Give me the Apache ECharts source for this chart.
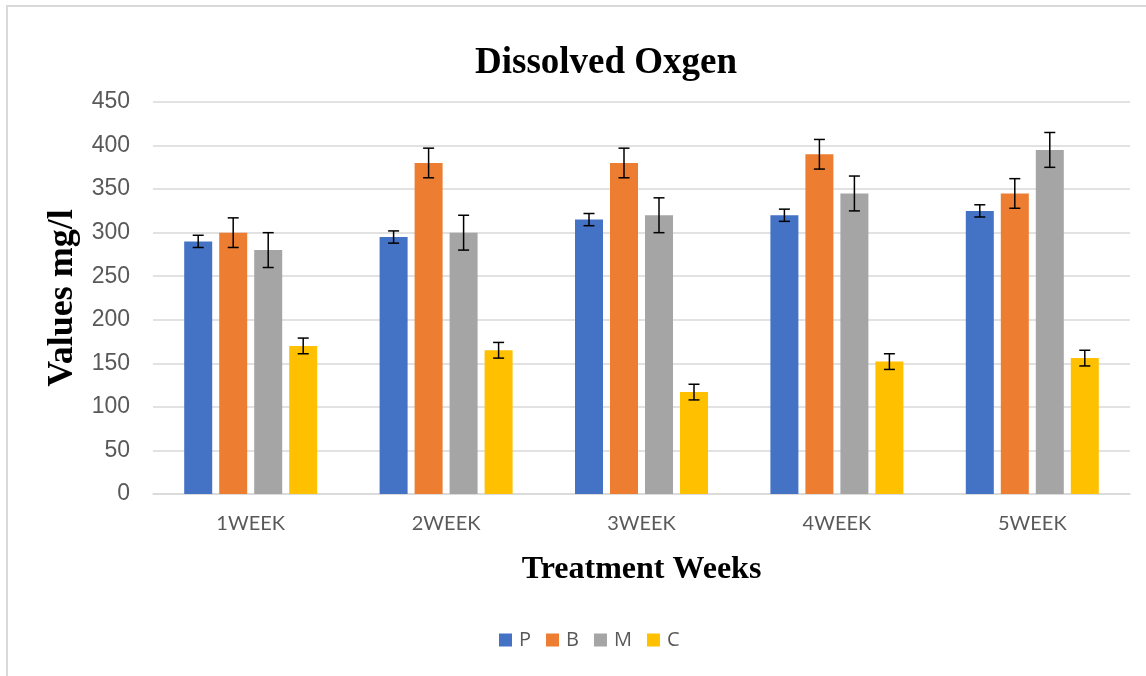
<!DOCTYPE html>
<html>
<head>
<meta charset="utf-8">
<script src="https://cdn.jsdelivr.net/npm/echarts@6/dist/echarts.min.js"></script>
<style>
html,body{margin:0;padding:0;background:#fff;}
#chart{width:1146px;height:676px;}
</style>
</head>
<body>
<div id="chart"></div>
<script>
var categories = ['1WEEK', '2WEEK', '3WEEK', '4WEEK', '5WEEK'];
var seriesNames = ['P', 'B', 'M', 'C'];
var valuesP = [290, 295, 315, 320, 325];
var valuesB = [300, 380, 380, 390, 345];
var valuesM = [280, 300, 320, 345, 395];
var valuesC = [170, 165, 117, 152, 156];
var errorsP = [7, 7, 7, 7, 7];
var errorsB = [17, 17, 17, 17, 17];
var errorsM = [20, 20, 20, 20, 20];
var errorsC = [9, 9, 9, 9, 9];
var yTicks = { min: 0, max: 450, interval: 50 };

var colors = ['#4472C4', '#ED7D31', '#A5A5A5', '#FFC000'];
var allValues = [valuesP, valuesB, valuesM, valuesC];
var allErrors = [errorsP, errorsB, errorsM, errorsC];

var BAR_W = 28, BAR_GAP = 7;
var groupW = seriesNames.length * BAR_W + (seriesNames.length - 1) * BAR_GAP;

var chart = echarts.init(document.getElementById('chart'));

var series = [];
seriesNames.forEach(function (name, i) {
  series.push({
    name: name,
    type: 'bar',
    data: allValues[i],
    barWidth: BAR_W,
    barGap: (BAR_GAP / BAR_W * 100) + '%',
    itemStyle: { color: colors[i] },
    z: 2
  });
});
seriesNames.forEach(function (name, i) {
  var offset = -groupW / 2 + BAR_W / 2 + i * (BAR_W + BAR_GAP);
  series.push({
    type: 'custom',
    name: name + '_err',
    data: allValues[i].map(function (v, j) { return [j, v, allErrors[i][j]]; }),
    z: 5,
    silent: true,
    renderItem: function (params, api) {
      var c = api.coord([api.value(0), api.value(1) + api.value(2)]);
      var d = api.coord([api.value(0), api.value(1) - api.value(2)]);
      var x = c[0] + offset;
      var hw = 5.5;
      var st = { stroke: '#000', lineWidth: 1.5 };
      return {
        type: 'group',
        children: [
          { type: 'line', shape: { x1: x, y1: c[1], x2: x, y2: d[1] }, style: st },
          { type: 'line', shape: { x1: x - hw, y1: c[1], x2: x + hw, y2: c[1] }, style: st },
          { type: 'line', shape: { x1: x - hw, y1: d[1], x2: x + hw, y2: d[1] }, style: st }
        ]
      };
    }
  });
});

chart.setOption({
  animation: false,
  backgroundColor: '#fff',
  title: {
    text: 'Dissolved Oxgen',
    left: 470,
    top: 40,
    textStyle: { fontFamily: 'Liberation Serif', fontWeight: 'bold', fontSize: 37, color: '#000' }
  },
  graphic: [{
    type: 'rect',
    shape: { x: 7, y: 6, width: 1200, height: 800 },
    style: { fill: 'none', stroke: '#d9d9d9', lineWidth: 2 },
    silent: true
  }],
  legend: {
    data: seriesNames,
    bottom: 21,
    left: 494,
    itemWidth: 13,
    itemHeight: 13,
    itemGap: 15,
    icon: 'rect',
    textStyle: { fontFamily: 'Open Sans', fontSize: 20, color: '#595959', padding: [0, 0, 0, 2] }
  },
  grid: { left: 153, right: 16, top: 102, bottom: 182 },
  xAxis: {
    type: 'category',
    data: categories,
    name: 'Treatment Weeks',
    nameLocation: 'middle',
    nameGap: 60,
    nameTextStyle: { fontFamily: 'Liberation Serif', fontWeight: 'bold', fontSize: 32, color: '#000' },
    axisLine: { lineStyle: { color: '#d9d9d9', width: 1.5 } },
    axisTick: { show: false },
    axisLabel: { fontFamily: 'Lato', fontSize: 20, color: '#595959', margin: 20 }
  },
  yAxis: {
    type: 'value',
    min: yTicks.min,
    max: yTicks.max,
    interval: yTicks.interval,
    name: 'Values mg/l',
    nameLocation: 'middle',
    nameRotate: 90,
    nameGap: 70,
    nameTextStyle: { fontFamily: 'Liberation Serif', fontWeight: 'bold', fontSize: 36, color: '#000' },
    axisLine: { show: false },
    axisTick: { show: false },
    splitLine: { lineStyle: { color: '#d9d9d9', width: 1.5 } },
    axisLabel: { fontFamily: 'Liberation Sans', fontSize: 23, color: '#595959', margin: 23 }
  },
  series: series
});
</script>
</body>
</html>
